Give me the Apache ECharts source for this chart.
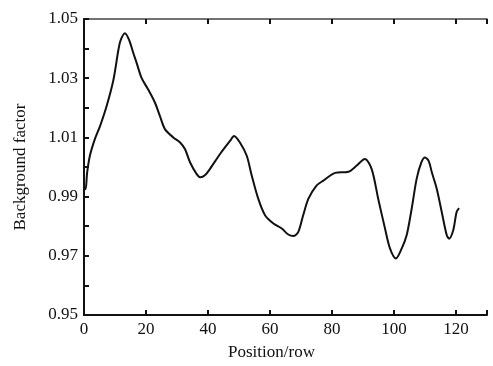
<!DOCTYPE html>
<html>
<head>
<meta charset="utf-8">
<script src="https://cdn.jsdelivr.net/npm/echarts@6/dist/echarts.min.js"></script>
<style>html,body{margin:0;padding:0;background:#fff}#c{width:493px;height:366px}</style>
</head>
<body>
<div id="c"></div>
<script>
var positions = [0, 0.5, 1.0, 1.9, 3.5, 5.2, 7.3, 9.5, 11.1, 11.8, 13.2, 14.6, 15.9, 17, 18.6, 20.7, 22.9, 24.5, 26.1, 28.8, 31, 32.6, 34.2, 36.3, 37.6, 39, 40.6, 43.9, 47.1, 48.4, 50.3, 52.5, 54.1, 56.2, 58.4, 61.1, 63.8, 65.9, 67.5, 69.1, 70.7, 72.4, 75, 77.2, 81, 85.3, 87.9, 90.6, 92.8, 94.9, 97.1, 98.7, 100.6, 102.5, 104.1, 105.7, 107.3, 108.8, 110, 111.2, 112.2, 113.8, 115.4, 117, 117.8, 119.1, 120.2, 121];
var factors = [0.9930, 0.9925, 0.9980, 1.0038, 1.0094, 1.0139, 1.0206, 1.0295, 1.0396, 1.0428, 1.0452, 1.0428, 1.0385, 1.0351, 1.0300, 1.0262, 1.0217, 1.0172, 1.0128, 1.0100, 1.0083, 1.0060, 1.0016, 0.9977, 0.9965, 0.9972, 0.9993, 1.0044, 1.0088, 1.0105, 1.0083, 1.0038, 0.9971, 0.9893, 0.9837, 0.9809, 0.9792, 0.9772, 0.9767, 0.9780, 0.9837, 0.9893, 0.9937, 0.9954, 0.9980, 0.9984, 1.0004, 1.0027, 0.9993, 0.9893, 0.9792, 0.9725, 0.9691, 0.9725, 0.9770, 0.9859, 0.9960, 1.0015, 1.0032, 1.0020, 0.9982, 0.9926, 0.9848, 0.9770, 0.9758, 0.9786, 0.9848, 0.9861];
var xTicks = [0, 20, 40, 60, 80, 100, 120];
var yTicks = ['0.95', '0.97', '0.99', '1.01', '1.03', '1.05'];

var data = positions.map(function (p, i) { return [p, factors[i]]; });
var font = 'Liberation Serif';
var lineStyle = { color: '#111', width: 2 };
var chart = echarts.init(document.getElementById('c'));
chart.setOption({
  animation: false,
  grid: { left: 84, right: 6, top: 19, bottom: 49, containLabel: false },
  xAxis: [{
    type: 'value', min: 0, max: 130, interval: 20, position: 'bottom',
    name: 'Position/row', nameLocation: 'middle', nameGap: 29,
    nameTextStyle: { fontFamily: font, fontSize: 17, color: '#111', padding: [0, 28, 0, 0] },
    axisLine: { show: true, lineStyle: lineStyle },
    axisTick: { show: true, inside: true, length: 5, lineStyle: lineStyle },
    axisLabel: {
      fontFamily: font, fontSize: 17, color: '#111', margin: 6,
      formatter: function (v) { return xTicks.indexOf(v) >= 0 ? String(v) : ''; }
    },
    splitLine: { show: false }
  }, {
    type: 'value', min: 0, max: 130, interval: 20, position: 'top',
    axisLine: { show: true, lineStyle: { color: '#444', width: 1.5 } },
    axisTick: { show: true, inside: true, length: 5, lineStyle: lineStyle },
    axisLabel: { show: false }, splitLine: { show: false }
  }],
  yAxis: [{
    type: 'value', min: 0.95, max: 1.05, interval: 0.01, position: 'left',
    name: 'Background factor', nameLocation: 'middle', nameGap: 55,
    nameTextStyle: { fontFamily: font, fontSize: 17, color: '#111' },
    axisLine: { show: true, lineStyle: lineStyle },
    axisTick: { show: true, inside: true, length: 5, lineStyle: lineStyle },
    axisLabel: {
      fontFamily: font, fontSize: 17, color: '#111', margin: 6,
      formatter: function (v) {
        var s = v.toFixed(2);
        return yTicks.indexOf(s) >= 0 ? s : '';
      }
    },
    splitLine: { show: false }
  }, {
    type: 'value', min: 0.95, max: 1.05, interval: 0.01, position: 'right',
    axisLine: { show: true, lineStyle: lineStyle },
    axisTick: { show: false }, axisLabel: { show: false }, splitLine: { show: false }
  }],
  series: [{
    type: 'line', data: data, smooth: 0.3, showSymbol: false,
    lineStyle: { color: '#111', width: 2 }
  }]
});
</script>
</body>
</html>
